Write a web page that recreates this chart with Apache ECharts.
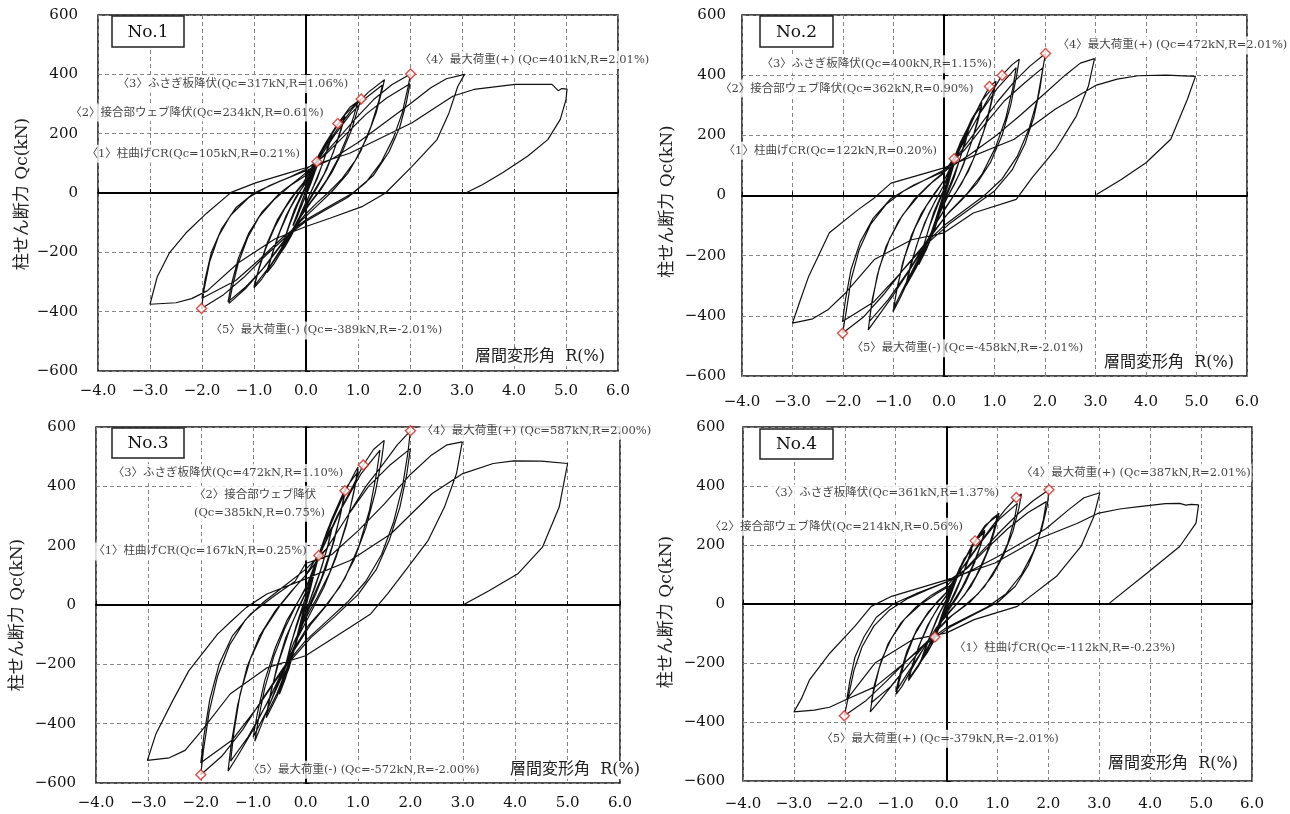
<!DOCTYPE html>
<html><head><meta charset="utf-8">
<script src="https://cdn.jsdelivr.net/npm/echarts@6/dist/echarts.min.js"></script>
<style>html,body{margin:0;padding:0;background:#fff;}#c{width:1290px;height:814px;}</style>
</head><body><div id="c"></div>
<script>
// ---------- DATA ----------
const panelTitles = ['No.1', 'No.2', 'No.3', 'No.4'];
const xAxisName = '層間変形角  R(%)';
const yAxisName = '柱せん断力 Qc(kN)';

// hysteresis paths [R(%), Qc(kN)]
const loopNo1 = [
[0,0],[0.1,50],[0.21,105],[0.26,115],[0.2,85],[0.1,35],[0.02,0],[-0.08,-40],[-0.18,-85],[-0.25,-110],[-0.2,-85],[-0.1,-38],[-0.02,0],
[0.08,45],[0.18,92],[0.25,112],[0.18,78],[0.08,30],[0,-5],[-0.1,-50],[-0.25,-108],[-0.18,-75],[-0.08,-28],[0,8],
[0.1,60],[0.2,110],[0.3,145],[0.4,175],[0.5,198],[0.44,165],[0.34,110],[0.22,50],[0.1,5],[0,-30],[-0.1,-70],[-0.2,-115],[-0.3,-150],[-0.4,-180],[-0.5,-205],[-0.44,-170],[-0.34,-115],[-0.22,-55],[-0.1,-10],[0,25],
[0.1,65],[0.25,130],[0.38,170],[0.5,192],[0.42,150],[0.3,90],[0.15,25],[0.02,-25],[-0.12,-80],[-0.28,-140],[-0.5,-200],[-0.42,-160],[-0.3,-100],[-0.15,-35],[0,20],
[0.12,75],[0.25,120],[0.4,175],[0.61,234],[0.75,265],[0.68,220],[0.55,150],[0.4,80],[0.22,20],[0.05,-30],[-0.1,-75],[-0.25,-125],[-0.45,-190],[-0.62,-240],[-0.75,-268],[-0.68,-225],[-0.55,-150],[-0.38,-75],[-0.2,-15],[0,35],
[0.15,90],[0.35,160],[0.55,215],[0.75,258],[0.67,210],[0.52,135],[0.35,65],[0.15,5],[0,-40],[-0.2,-105],[-0.45,-180],[-0.75,-262],[-0.66,-210],[-0.5,-130],[-0.3,-50],[-0.1,10],[0.05,50],
[0.2,100],[0.4,170],[0.6,230],[0.85,290],[1.06,317],[1.0,285],[0.88,215],[0.7,140],[0.5,70],[0.3,15],[0.1,-30],[-0.1,-80],[-0.35,-150],[-0.6,-225],[-0.85,-290],[-1.0,-320],[-0.92,-265],[-0.78,-190],[-0.6,-115],[-0.4,-50],[-0.2,0],[0,40],
[0.2,105],[0.45,185],[0.7,255],[1.0,308],[0.92,260],[0.78,185],[0.6,110],[0.4,45],[0.2,-5],[0,-50],[-0.3,-140],[-0.6,-225],[-1.0,-315],[-0.9,-250],[-0.75,-170],[-0.55,-90],[-0.3,-20],[-0.05,35],
[0.15,95],[0.35,150],[0.6,215],[0.9,285],[1.2,340],[1.51,382],[1.46,345],[1.35,270],[1.18,190],[0.95,110],[0.7,50],[0.45,5],[0.2,-35],[0,-70],[-0.25,-120],[-0.55,-190],[-0.85,-260],[-1.15,-320],[-1.48,-372],[-1.42,-320],[-1.3,-235],[-1.12,-150],[-0.9,-80],[-0.6,-20],[-0.3,25],[0,60],
[0.25,115],[0.55,195],[0.85,265],[1.15,320],[1.47,364],[1.4,310],[1.25,225],[1.05,140],[0.8,65],[0.5,5],[0.2,-45],[-0.1,-95],[-0.45,-170],[-0.8,-250],[-1.15,-315],[-1.5,-367],[-1.43,-305],[-1.3,-220],[-1.1,-135],[-0.85,-65],[-0.5,0],[-0.2,40],[0.05,75],
[0.3,120],[0.6,180],[0.95,250],[1.3,315],[1.65,365],[2.01,401],[1.96,355],[1.85,270],[1.68,185],[1.45,105],[1.15,35],[0.8,-15],[0.4,-55],[0,-95],[-0.4,-150],[-0.8,-215],[-1.2,-285],[-1.6,-345],[-2.01,-389],[-1.96,-325],[-1.85,-230],[-1.68,-145],[-1.45,-75],[-1.1,-15],[-0.7,25],[-0.3,55],[0,80],
[0.35,125],[0.75,195],[1.15,265],[1.55,320],[2.0,368],[1.93,305],[1.8,220],[1.6,140],[1.3,60],[0.9,0],[0.45,-45],[0,-90],[-0.45,-150],[-0.9,-225],[-1.35,-295],[-2.0,-355],[-1.94,-290],[-1.82,-200],[-1.62,-120],[-1.35,-50],[-1.0,0],[-0.5,40],[0,75],
[0.5,115],[1.0,170],[1.5,235],[2.0,300],[2.4,355],[2.7,385],[3.05,400],[2.92,360],[2.75,270],[2.52,180],[2.04,90],[1.53,0],[1.09,-45],[0.46,-85],[0,-113],[-0.6,-155],[-1.3,-235],[-1.9,-330],[-2.2,-356],[-2.5,-370],[-3.0,-375],
[-2.86,-282],[-2.63,-203],[-2.31,-135],[-1.91,-68],[-1.44,2],[-0.97,34],[-0.33,68],[0,85],[0.85,135],[2.04,237],[2.83,327],[3.23,349],[4.02,366],[4.73,366],[4.85,345],[4.92,352],[5.02,350],[5.0,315],[4.89,248],[4.65,180],[4.26,124],[3.78,68],[3.39,28],[3.07,0]
];
const loopNo2 = [
[0,0],[0.1,60],[0.2,122],[0.25,135],[0.18,95],[0.08,35],[0,-5],[-0.1,-60],[-0.25,-125],[-0.18,-90],[-0.08,-35],[0,5],
[0.1,62],[0.25,132],[0.17,88],[0.07,30],[0,-8],[-0.1,-62],[-0.25,-122],[-0.17,-82],[-0.07,-28],[0,10],
[0.1,70],[0.2,125],[0.32,175],[0.5,235],[0.43,190],[0.32,125],[0.2,60],[0.08,10],[-0.05,-40],[-0.2,-120],[-0.35,-180],[-0.5,-230],[-0.43,-185],[-0.32,-120],[-0.2,-55],[-0.07,-5],[0.05,40],
[0.2,125],[0.35,185],[0.5,228],[0.42,175],[0.28,105],[0.12,35],[0,-15],[-0.15,-90],[-0.32,-165],[-0.5,-225],[-0.42,-175],[-0.28,-100],[-0.12,-30],[0.02,25],
[0.15,95],[0.35,180],[0.55,255],[0.75,310],[0.68,260],[0.55,180],[0.38,100],[0.2,35],[0.02,-20],[-0.15,-85],[-0.35,-165],[-0.55,-240],[-0.75,-300],[-0.68,-250],[-0.55,-170],[-0.38,-90],[-0.18,-20],[0,35],
[0.2,115],[0.4,195],[0.6,265],[0.75,300],[0.66,240],[0.5,155],[0.3,70],[0.1,5],[-0.1,-65],[-0.35,-160],[-0.55,-235],[-0.75,-292],[-0.66,-230],[-0.5,-145],[-0.3,-60],[-0.1,5],[0.05,50],
[0.25,130],[0.5,225],[0.7,300],[0.9,362],[1.03,380],[0.97,330],[0.85,245],[0.68,160],[0.48,80],[0.25,15],[0.03,-40],[-0.2,-105],[-0.45,-190],[-0.7,-280],[-0.88,-345],[-1.01,-386],[-0.94,-320],[-0.82,-225],[-0.65,-135],[-0.45,-60],[-0.2,5],[0,50],
[0.25,135],[0.5,235],[0.75,315],[1.0,365],[0.92,300],[0.78,210],[0.58,120],[0.35,40],[0.1,-25],[-0.15,-90],[-0.45,-190],[-0.75,-290],[-1.0,-375],[-0.92,-300],[-0.78,-205],[-0.58,-110],[-0.35,-35],[-0.1,25],[0.05,65],
[0.3,150],[0.6,240],[0.9,330],[1.15,400],[1.35,435],[1.49,453],[1.44,400],[1.32,300],[1.15,200],[0.92,110],[0.65,40],[0.35,-15],[0.05,-65],[-0.3,-145],[-0.65,-240],[-1.0,-330],[-1.3,-400],[-1.5,-447],[-1.44,-370],[-1.32,-265],[-1.15,-170],[-0.9,-85],[-0.6,-15],[-0.3,35],[0,75],
[0.35,165],[0.7,270],[1.05,355],[1.43,425],[1.36,355],[1.22,255],[1.02,160],[0.75,70],[0.45,5],[0.1,-55],[-0.3,-140],[-0.7,-250],[-1.1,-345],[-1.48,-419],[-1.42,-345],[-1.28,-240],[-1.08,-145],[-0.82,-65],[-0.5,0],[-0.2,50],[0.05,85],
[0.35,150],[0.7,230],[1.05,310],[1.4,380],[1.7,430],[2.01,472],[1.95,415],[1.85,320],[1.68,220],[1.45,130],[1.15,55],[0.8,0],[0.4,-50],[0,-100],[-0.4,-165],[-0.8,-245],[-1.2,-330],[-1.6,-405],[-2.01,-458],[-1.94,-390],[-1.84,-280],[-1.68,-180],[-1.45,-95],[-1.15,-30],[-0.8,15],[-0.4,50],[0,85],
[0.4,150],[0.8,235],[1.2,315],[1.6,375],[1.96,425],[1.9,355],[1.78,260],[1.6,170],[1.35,85],[1.0,15],[0.55,-40],[0.1,-95],[-0.4,-170],[-0.9,-265],[-1.4,-355],[-2.01,-419],[-1.95,-345],[-1.84,-245],[-1.66,-155],[-1.4,-75],[-1.05,-10],[-0.6,35],[0,80],
[0.5,135],[1.0,195],[1.5,265],[2.0,340],[2.4,400],[2.7,440],[2.98,455],[2.86,364],[2.62,264],[2.21,153],[1.75,60],[1.43,-13],[0.58,-58],[0,-124],[-0.64,-147],[-1.38,-213],[-1.95,-324],[-2.3,-380],[-2.6,-410],[-3.0,-424],
[-2.85,-350],[-2.68,-269],[-2.27,-124],[-1.7,-47],[-1.38,-8],[-1.05,41],[0,92],[1.39,187],[2.2,287],[3.02,367],[3.43,387],[3.84,398],[4.4,400],[4.98,396],[4.82,320],[4.49,187],[4.0,109],[3.51,53],[3.02,3]
];
const loopNo3 = [
[0,0],[0.1,70],[0.2,135],[0.25,167],[0.18,120],[0.08,45],[0,-5],[-0.1,-70],[-0.25,-170],[-0.18,-120],[-0.08,-45],[0,5],
[0.1,72],[0.25,165],[0.17,110],[0.07,40],[0,-8],[-0.1,-72],[-0.25,-165],[-0.17,-110],[-0.07,-38],[0,10],
[0.1,75],[0.25,170],[0.38,225],[0.5,262],[0.43,205],[0.32,135],[0.18,60],[0.05,0],[-0.1,-75],[-0.25,-170],[-0.38,-245],[-0.5,-301],[-0.43,-240],[-0.32,-160],[-0.18,-70],[-0.05,0],[0.05,50],
[0.2,140],[0.35,215],[0.5,255],[0.42,195],[0.28,115],[0.12,35],[0,-25],[-0.15,-110],[-0.32,-215],[-0.5,-295],[-0.42,-230],[-0.28,-130],[-0.12,-45],[0.02,20],
[0.15,110],[0.35,220],[0.55,310],[0.75,385],[0.68,320],[0.55,220],[0.38,120],[0.2,40],[0.02,-30],[-0.15,-110],[-0.35,-220],[-0.55,-310],[-0.75,-380],[-0.68,-310],[-0.55,-210],[-0.38,-110],[-0.18,-30],[0,40],
[0.2,140],[0.4,245],[0.6,330],[0.75,375],[0.66,300],[0.5,195],[0.3,90],[0.1,10],[-0.1,-80],[-0.35,-210],[-0.55,-300],[-0.75,-370],[-0.66,-290],[-0.5,-185],[-0.3,-80],[-0.1,5],[0.05,60],
[0.25,165],[0.5,280],[0.75,380],[0.95,450],[1.0,465],[0.94,400],[0.82,300],[0.65,200],[0.45,105],[0.22,25],[0.0,-45],[-0.22,-125],[-0.45,-230],[-0.7,-340],[-0.88,-420],[-0.97,-459],[-0.9,-385],[-0.78,-280],[-0.6,-170],[-0.4,-80],[-0.18,0],[0,55],
[0.25,170],[0.5,290],[0.75,390],[1.0,450],[0.92,380],[0.78,270],[0.58,160],[0.35,60],[0.1,-25],[-0.15,-110],[-0.45,-240],[-0.75,-360],[-1.0,-445],[-0.92,-365],[-0.78,-255],[-0.58,-145],[-0.35,-50],[-0.1,25],[0.05,75],
[0.3,180],[0.6,300],[0.9,400],[1.1,472],[1.3,525],[1.5,555],[1.45,490],[1.33,380],[1.15,260],[0.92,150],[0.65,60],[0.35,-10],[0.05,-70],[-0.3,-170],[-0.65,-300],[-1.0,-420],[-1.3,-510],[-1.48,-560],[-1.42,-470],[-1.3,-340],[-1.12,-210],[-0.88,-105],[-0.58,-20],[-0.28,45],[0,100],
[0.35,200],[0.7,330],[1.05,440],[1.42,522],[1.35,440],[1.22,320],[1.02,200],[0.75,90],[0.45,10],[0.1,-65],[-0.3,-175],[-0.7,-320],[-1.1,-445],[-1.43,-526],[-1.37,-430],[-1.25,-300],[-1.05,-180],[-0.8,-85],[-0.5,-5],[-0.2,60],[0.05,110],
[0.4,190],[0.8,300],[1.15,400],[1.5,480],[1.75,540],[2.0,587],[1.95,510],[1.85,400],[1.68,280],[1.45,170],[1.15,80],[0.8,10],[0.4,-55],[0,-120],[-0.4,-205],[-0.8,-310],[-1.2,-420],[-1.6,-510],[-2.0,-572],[-1.95,-490],[-1.84,-360],[-1.68,-240],[-1.45,-135],[-1.15,-50],[-0.8,10],[-0.4,65],[0,120],
[0.4,190],[0.8,300],[1.2,400],[1.6,470],[2.0,527],[1.93,440],[1.8,330],[1.6,220],[1.35,120],[1.0,35],[0.55,-40],[0.1,-110],[-0.4,-210],[-0.9,-340],[-1.4,-455],[-2.0,-532],[-1.94,-440],[-1.83,-320],[-1.65,-200],[-1.4,-105],[-1.05,-30],[-0.6,30],[-0.2,80],[0,140],
[0.5,170],[1.0,250],[1.5,340],[2.0,440],[2.4,505],[2.7,540],[2.99,550],[2.88,443],[2.65,330],[2.34,218],[1.95,127],[1.56,37],[1.24,-30],[0.85,-75],[0,-171],[-0.73,-211],[-1.44,-300],[-1.99,-425],[-2.3,-490],[-2.6,-515],[-3.02,-524],
[-2.86,-436],[-2.54,-324],[-2.23,-222],[-1.68,-98],[-1.41,-53],[-1.13,-8],[-0.74,37],[0,88],[0.85,150],[1.63,240],[2.41,375],[3.0,443],[3.58,477],[3.97,486],[4.5,485],[5.0,477],[4.84,330],[4.52,195],[4.05,105],[3.5,48],[3.0,0]
];
const loopNo4 = [
[0,0],[0.1,50],[0.2,95],[0.25,112],[0.18,78],[0.08,30],[0,-5],[-0.1,-50],[-0.23,-112],[-0.25,-118],[-0.18,-82],[-0.08,-32],[0,3],
[0.1,52],[0.25,110],[0.17,72],[0.07,25],[0,-8],[-0.1,-55],[-0.25,-115],[-0.17,-75],[-0.07,-25],[0,8],
[0.1,55],[0.25,120],[0.38,160],[0.5,192],[0.43,155],[0.32,100],[0.18,40],[0.05,-5],[-0.1,-60],[-0.25,-125],[-0.38,-165],[-0.5,-195],[-0.43,-160],[-0.32,-105],[-0.18,-45],[-0.05,0],[0.05,35],
[0.2,100],[0.35,155],[0.5,185],[0.42,145],[0.28,85],[0.12,25],[0,-20],[-0.15,-80],[-0.32,-145],[-0.5,-190],[-0.42,-150],[-0.28,-90],[-0.12,-25],[0.02,20],
[0.15,80],[0.35,150],[0.56,214],[0.75,250],[0.68,205],[0.55,140],[0.38,75],[0.2,20],[0.02,-25],[-0.15,-75],[-0.35,-145],[-0.55,-210],[-0.75,-260],[-0.68,-215],[-0.55,-145],[-0.38,-75],[-0.18,-15],[0,30],
[0.2,95],[0.4,165],[0.6,220],[0.75,245],[0.66,195],[0.5,125],[0.3,55],[0.1,0],[-0.1,-55],[-0.35,-140],[-0.55,-205],[-0.75,-255],[-0.66,-200],[-0.5,-125],[-0.3,-50],[-0.1,5],[0.05,40],
[0.25,115],[0.5,195],[0.75,260],[0.9,290],[1.03,308],[0.97,265],[0.85,195],[0.68,125],[0.48,60],[0.25,10],[0.03,-30],[-0.2,-80],[-0.45,-150],[-0.7,-225],[-0.88,-280],[-0.99,-306],[-0.92,-255],[-0.8,-180],[-0.63,-105],[-0.42,-45],[-0.2,5],[0,40],
[0.25,115],[0.5,200],[0.75,265],[1.0,300],[0.92,245],[0.78,170],[0.58,95],[0.35,30],[0.1,-20],[-0.15,-70],[-0.45,-150],[-0.75,-230],[-1.0,-298],[-0.92,-240],[-0.78,-160],[-0.58,-85],[-0.35,-25],[-0.1,20],[0.05,50],
[0.3,120],[0.6,195],[0.9,265],[1.15,320],[1.37,361],[1.47,373],[1.42,325],[1.3,245],[1.12,165],[0.9,95],[0.62,35],[0.32,-10],[0.02,-50],[-0.3,-110],[-0.65,-185],[-1.0,-260],[-1.3,-325],[-1.5,-366],[-1.44,-300],[-1.32,-215],[-1.15,-135],[-0.9,-65],[-0.6,-10],[-0.3,30],[0,60],
[0.35,130],[0.7,215],[1.05,290],[1.39,341],[1.33,285],[1.2,205],[1.0,130],[0.75,60],[0.45,5],[0.1,-40],[-0.3,-110],[-0.7,-195],[-1.1,-280],[-1.48,-335],[-1.42,-275],[-1.28,-190],[-1.08,-115],[-0.82,-50],[-0.5,0],[-0.2,35],[0.05,60],
[0.35,115],[0.7,180],[1.05,245],[1.4,305],[1.7,350],[2.01,387],[1.98,335],[1.87,255],[1.7,175],[1.47,100],[1.17,35],[0.8,-10],[0.4,-45],[0,-80],[-0.4,-130],[-0.8,-195],[-1.2,-265],[-1.6,-330],[-2.01,-379],[-1.93,-315],[-1.82,-225],[-1.66,-145],[-1.43,-75],[-1.12,-20],[-0.75,20],[-0.35,50],[0,75],
[0.4,120],[0.8,190],[1.2,255],[1.6,310],[1.96,347],[1.9,285],[1.78,205],[1.6,130],[1.35,60],[1.0,5],[0.55,-35],[0.1,-75],[-0.4,-135],[-0.9,-210],[-1.4,-280],[-1.96,-323],[-1.9,-260],[-1.8,-180],[-1.62,-110],[-1.38,-45],[-1.05,0],[-0.6,35],[0,75],
[0.5,115],[1.0,160],[1.5,210],[1.95,255],[2.4,320],[2.7,360],[3.01,377],[2.89,296],[2.64,195],[2.16,94],[1.39,-8],[0.54,-53],[0,-98],[-0.67,-121],[-1.4,-199],[-1.96,-323],[-2.3,-350],[-2.6,-360],[-3.0,-366],
[-2.85,-320],[-2.69,-256],[-2.29,-166],[-1.8,-75],[-1.48,-8],[-1.08,26],[0,82],[0.95,139],[1.75,217],[2.56,273],[2.97,307],[3.4,322],[3.78,330],[4.3,340],[4.58,341],[4.7,335],[4.8,338],[4.95,336],[4.9,274],[4.58,195],[3.94,105],[3.2,3]
];

// marked events [R(%), Qc(kN)]
const eventsNo1 = [[0.21,105],[0.61,234],[1.06,317],[2.01,401],[-2.01,-389]];
const eventsNo2 = [[0.20,122],[0.90,362],[1.15,400],[2.01,472],[-2.01,-458]];
const eventsNo3 = [[0.25,167],[0.75,385],[1.10,472],[2.00,587],[-2.00,-572]];
const eventsNo4 = [[-0.23,-112],[0.56,214],[1.37,361],[2.01,387],[-2.01,-379]];

const textsNo1 = ['〈1〉柱曲げCR(Qc=105kN,R=0.21%)','〈2〉接合部ウェブ降伏(Qc=234kN,R=0.61%)','〈3〉ふさぎ板降伏(Qc=317kN,R=1.06%)','〈4〉最大荷重(+) (Qc=401kN,R=2.01%)','〈5〉最大荷重(-) (Qc=-389kN,R=-2.01%)'];
const textsNo2 = ['〈1〉柱曲げCR(Qc=122kN,R=0.20%)','〈2〉接合部ウェブ降伏(Qc=362kN,R=0.90%)','〈3〉ふさぎ板降伏(Qc=400kN,R=1.15%)','〈4〉最大荷重(+) (Qc=472kN,R=2.01%)','〈5〉最大荷重(-) (Qc=-458kN,R=-2.01%)'];
const textsNo3 = ['〈1〉柱曲げCR(Qc=167kN,R=0.25%)','〈2〉接合部ウェブ降伏\n(Qc=385kN,R=0.75%)','〈3〉ふさぎ板降伏(Qc=472kN,R=1.10%)','〈4〉最大荷重(+) (Qc=587kN,R=2.00%)','〈5〉最大荷重(-) (Qc=-572kN,R=-2.00%)'];
const textsNo4 = ['〈1〉柱曲げCR(Qc=-112kN,R=-0.23%)','〈2〉接合部ウェブ降伏(Qc=214kN,R=0.56%)','〈3〉ふさぎ板降伏(Qc=361kN,R=1.37%)','〈4〉最大荷重(+) (Qc=387kN,R=2.01%)','〈5〉最大荷重(+) (Qc=-379kN,R=-2.01%)'];

// ---------- LAYOUT / STYLE ----------
const FONT = "'DejaVu Serif','Noto Sans CJK JP',serif";
const TXT = '#111';
const panels = [
  {loop: loopNo1, ev: eventsNo1, tx: textsNo1, grid: {left: 98, top: 15, width: 520, height: 356}, xm: 13, ym: 20, ng: 67, npad: 2,
   lab: [['right',-16,-8],['right',-13,-11],['right',-12,-15],['left',8,-14],['left',8,22]],
   box: [112,16,72,31], xname: [607,357]},
  {loop: loopNo2, ev: eventsNo2, tx: textsNo2, grid: {left: 742, top: 15, width: 505, height: 361}, xm: 19, ym: 16, ng: 66, npad: 12,
   lab: [['right',-16,-8],['right',-15,2],['right',-9,-11],['left',11,-8],['left',8,15]],
   box: [760,16,73,31], xname: [1236,363]},
  {loop: loopNo3, ev: eventsNo3, tx: textsNo3, grid: {left: 96, top: 427, width: 524, height: 356}, xm: 13, ym: 20, ng: 70, npad: 20,
   lab: [['right',-11,-4],['left',-152,13],['right',-19,8],['left',10,0],['left',46,-5]],
   box: [112,428,72,30], xname: [642,770]},
  {loop: loopNo4, ev: eventsNo4, tx: textsNo4, grid: {left: 743, top: 427, width: 509, height: 354}, xm: 16, ym: 18, ng: 68, npad: 16,
   lab: [['left',18,11],['right',-11,-14],['right',-16,-4],['left',-29,-17],['left',-24,23]],
   box: [760,429,73,30], xname: [1240,764]}
];

const minus = s => String(s).replace('-', '\u2212');
const grid = [], xAxis = [], yAxis = [], series = [], graphic = [];
panels.forEach((p, g) => {
  grid.push(Object.assign({show: true, borderColor: '#111', borderWidth: 1.5, backgroundColor: 'transparent'}, p.grid));
  const xi = xAxis.length, yi = yAxis.length;
  xAxis.push({gridIndex: g, type: 'value', min: -4, max: 6, interval: 1, position: 'bottom',
    axisLine: {show: false, onZero: false}, axisTick: {show: false},
    axisLabel: {margin: p.xm, fontFamily: FONT, fontSize: 15, color: TXT, formatter: v => minus(v.toFixed(1))},
    splitLine: {show: true, lineStyle: {type: [4, 3], color: '#858585', width: 1}}});
  xAxis.push({gridIndex: g, type: 'value', min: -4, max: 6, interval: 1, position: 'top',
    axisLine: {show: true, onZero: true, onZeroAxisIndex: yi, lineStyle: {color: '#000', width: 2}},
    axisTick: {show: true, inside: false, length: 4, lineStyle: {color: '#000', width: 1}},
    axisLabel: {show: false}, splitLine: {show: false}});
  yAxis.push({gridIndex: g, type: 'value', min: -600, max: 600, interval: 200, position: 'left',
    axisLine: {show: false, onZero: false}, axisTick: {show: false},
    axisLabel: {margin: p.ym, fontFamily: FONT, fontSize: 15, color: TXT, formatter: v => minus(v)},
    splitLine: {show: true, lineStyle: {type: [4, 3], color: '#858585', width: 1}},
    name: yAxisName, nameLocation: 'middle', nameGap: p.ng,
    nameTextStyle: {fontFamily: FONT, fontSize: 17, color: '#222', padding: [0, p.npad, 0, 0]}});
  yAxis.push({gridIndex: g, type: 'value', min: -600, max: 600, interval: 200, position: 'right',
    axisLine: {show: true, onZero: true, onZeroAxisIndex: xi, lineStyle: {color: '#000', width: 2}},
    axisTick: {show: true, inside: false, length: 4, lineStyle: {color: '#000', width: 1}},
    axisLabel: {show: false}, splitLine: {show: false}});
  series.push({type: 'line', xAxisIndex: xi, yAxisIndex: yi, data: p.loop, showSymbol: false, symbol: 'none',
    lineStyle: {color: '#111', width: 1.2}, z: 3, animation: false, silent: true});
  series.push({type: 'scatter', xAxisIndex: xi, yAxisIndex: yi, z: 6, animation: false, silent: true,
    symbol: 'diamond', symbolSize: 10,
    itemStyle: {color: '#fff', borderColor: '#d9261c', borderWidth: 1.4},
    data: p.ev.map((v, i) => ({value: v, label: {show: true, position: 'inside', formatter: p.tx[i],
      align: p.lab[i][0], verticalAlign: 'middle', offset: [p.lab[i][1], p.lab[i][2]],
      fontFamily: FONT, fontSize: 11.5, color: TXT, lineHeight: 18, backgroundColor: '#fff',
      padding: [0, 1], textBorderWidth: 0}}))});
  const b = p.box;
  graphic.push({type: 'rect', z: 100, shape: {x: b[0], y: b[1], width: b[2], height: b[3]},
    style: {fill: '#fff', stroke: '#222', lineWidth: 1.5}});
  graphic.push({type: 'text', z: 101, x: b[0] + b[2] / 2, y: b[1] + b[3] / 2 + 1,
    style: {text: panelTitles[g], font: "17px 'DejaVu Serif', serif", fill: '#111',
      textAlign: 'center', textVerticalAlign: 'middle', align: 'center', verticalAlign: 'middle'}});
  graphic.push({type: 'text', z: 100, x: p.xname[0], y: p.xname[1],
    style: {text: xAxisName, font: "16px 'DejaVu Serif','Noto Sans CJK JP', serif", fill: '#222',
      textAlign: 'right', textVerticalAlign: 'middle', align: 'right', verticalAlign: 'middle',
      textBackgroundColor: '#fff', backgroundColor: '#fff', textPadding: [1, 2], padding: [1, 2]}});
});

const chart = echarts.init(document.getElementById('c'), null, {renderer: 'canvas'});
chart.setOption({animation: false, backgroundColor: '#fff', grid, xAxis, yAxis, series, graphic});
</script>
</body></html>
